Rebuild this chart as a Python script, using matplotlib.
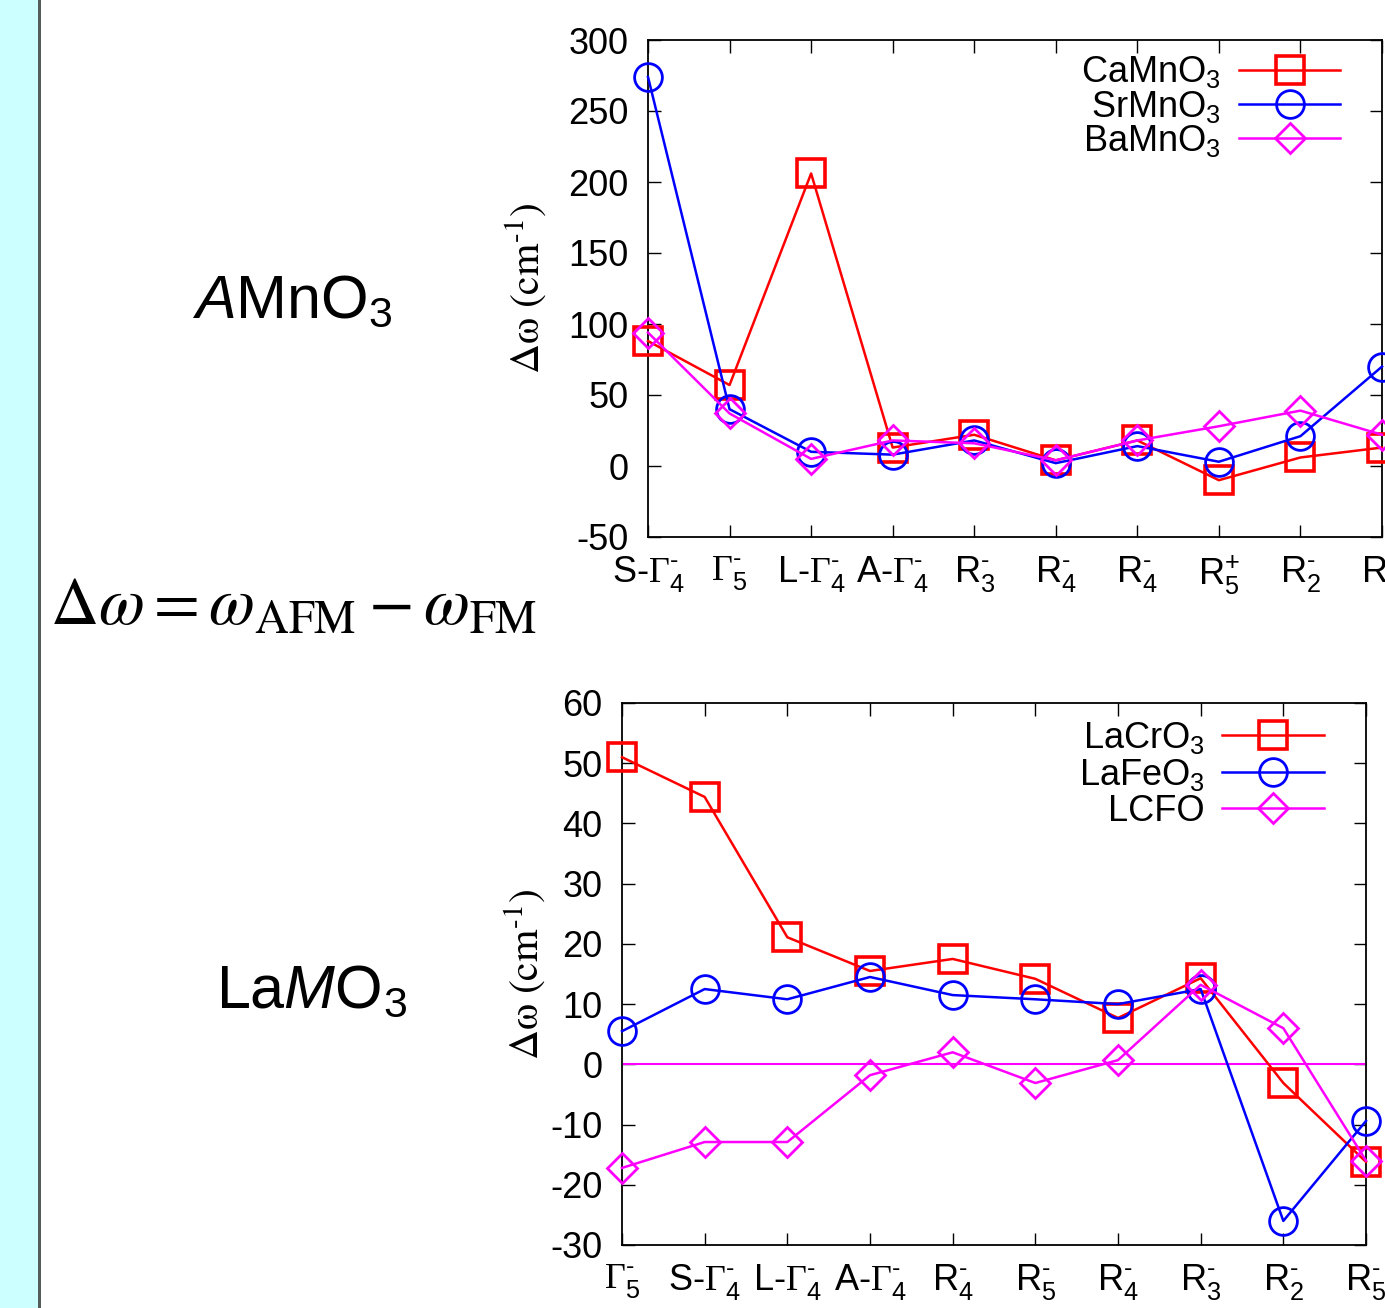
"""
Phonon frequency shift between AFM and FM order, AMnO3 and LaMO3 panels.
"""

import matplotlib
matplotlib.use("Agg")
import matplotlib.pyplot as plt
from matplotlib.patches import Rectangle

W, H = 1385, 1308

plt.rcParams["font.family"] = ["Liberation Sans", "DejaVu Sans"]
plt.rcParams["mathtext.fontset"] = "custom"
plt.rcParams["mathtext.rm"] = "Liberation Sans"
plt.rcParams["mathtext.it"] = "Liberation Sans:italic"
plt.rcParams["mathtext.sf"] = "Liberation Serif"
plt.rcParams["axes.unicode_minus"] = False

G = r"\mathsf{\Gamma}"
M = r"^{\text{-}}"
P = r"^{\text{+}}"

# --- AMnO3 panel ---
top_ticks = [rf"S-${G}_4{M}$", rf"${G}_5{M}$", rf"L-${G}_4{M}$", rf"A-${G}_4{M}$",
             rf"R$_3{M}$", rf"R$_4{M}$", rf"R$_4{M}$", rf"R$_5{P}$", rf"R$_2{M}$",
             rf"R$_5{M}$"]
camno3 = [88, 57, 206, 13, 22, 4, 18, -10, 6, 13]
srmno3 = [274, 40, 10, 8, 18, 2, 14, 3, 21, 70]
bamno3 = [94, 37, 5, 18, 16, 4, 18, 28, 39, 22]

# --- LaMO3 panel ---
bot_ticks = [rf"${G}_5{M}$", rf"S-${G}_4{M}$", rf"L-${G}_4{M}$", rf"A-${G}_4{M}$",
             rf"R$_4{M}$", rf"R$_5{M}$", rf"R$_4{M}$", rf"R$_3{M}$", rf"R$_2{M}$",
             rf"R$_5{M}$"]
lacro3 = [51, 44.4, 21.1, 15.5, 17.5, 14.2, 7.7, 14.3, -3.1, -16.2]
lafeo3 = [5.5, 12.5, 10.8, 14.5, 11.5, 10.8, 10.0, 12.5, -26, -9.4]
lcfo = [-17.2, -12.9, -12.9, -1.8, 2.0, -3.1, 0.7, 13.2, 6.0, -16.0]

RED, BLUE, MAG = "#FF0000", "#0000FF", "#FF00FF"
STYLE = [("s", 20, 2.6, RED), ("o", 20, 2.0, BLUE), ("D", 15, 2.0, MAG)]
FS = 26


def panel(ax, ticks, series, labels, ylim, ystep, legend_anchor, spacing,
          ylab_x):
    x = range(len(ticks))
    for vals, lab, (mk, ms, mew, c) in zip(series, labels, STYLE):
        ax.plot(x, vals, color=c, lw=1.8, marker=mk, ms=ms, mfc="none",
                mec=c, mew=mew, label=lab, clip_on=False, zorder=3)
    ax.set_xlim(0, len(ticks) - 1)
    ax.set_ylim(*ylim)
    ax.set_xticks(list(x))
    ax.set_xticklabels(ticks, fontsize=FS)
    ax.set_yticks(range(ylim[0], ylim[1] + 1, ystep))
    ax.tick_params(direction="in", length=9, width=1, top=True, right=True,
                   labelsize=FS)
    ax.tick_params(axis="y", pad=14)
    ax.tick_params(axis="x", pad=12)
    for s in ax.spines.values():
        s.set_linewidth(1.3)
    ax.set_ylabel(r"$\mathrm{\Delta\omega\ (cm^{\text{-}1})}$", fontsize=30,
                  math_fontfamily="stix")
    ax.yaxis.set_label_coords(ylab_x, 0.5)
    ax.legend(loc="upper right", bbox_to_anchor=legend_anchor, frameon=False,
              markerfirst=False, numpoints=1, fontsize=FS, handlelength=2.8,
              handletextpad=0.5, labelspacing=spacing, borderpad=0,
              borderaxespad=0)


fig = plt.figure(figsize=(W / 100, H / 100), dpi=100)

# cyan strip on the left edge
fig.patches.append(Rectangle((0, 0), 38 / W, 1, transform=fig.transFigure,
                             facecolor="#CCFFFF", edgecolor="none"))
fig.patches.append(Rectangle((38 / W, 0), 3 / W, 1, transform=fig.transFigure,
                             facecolor="#555C5C", edgecolor="none"))

ax1 = fig.add_axes([648 / W, 1 - 537 / H, 734 / W, 497 / H])
panel(ax1, top_ticks, [camno3, srmno3, bamno3],
      [r"CaMnO$_3$", r"SrMnO$_3$", r"BaMnO$_3$"], (-50, 300), 50,
      (0.943, 0.971), -0.05, -0.135)

ax2 = fig.add_axes([622 / W, 1 - 1245 / H, 744 / W, 542 / H])
panel(ax2, bot_ticks, [lacro3, lafeo3, lcfo],
      [r"LaCrO$_3$", r"LaFeO$_3$", "LCFO"], (-30, 60), 10,
      (0.943, 0.9695), 0.03, -0.1)
ax2.axhline(0, color=MAG, lw=1.5, zorder=2)

fig.text(292 / W, 1 - 317 / H, r"$\mathit{A}$MnO$_3$", fontsize=44,
         ha="center", va="baseline")
fig.text(311 / W, 1 - 1007 / H, r"La$\mathit{M}$O$_3$", fontsize=44,
         ha="center", va="baseline")
fig.text(50 / W, 1 - 624 / H,
         r"$\Delta\omega = \omega_{\mathrm{AFM}} - \omega_{\mathrm{FM}}$",
         fontsize=48, ha="left", va="baseline", math_fontfamily="stix")

fig.savefig("out.png", dpi=100)
